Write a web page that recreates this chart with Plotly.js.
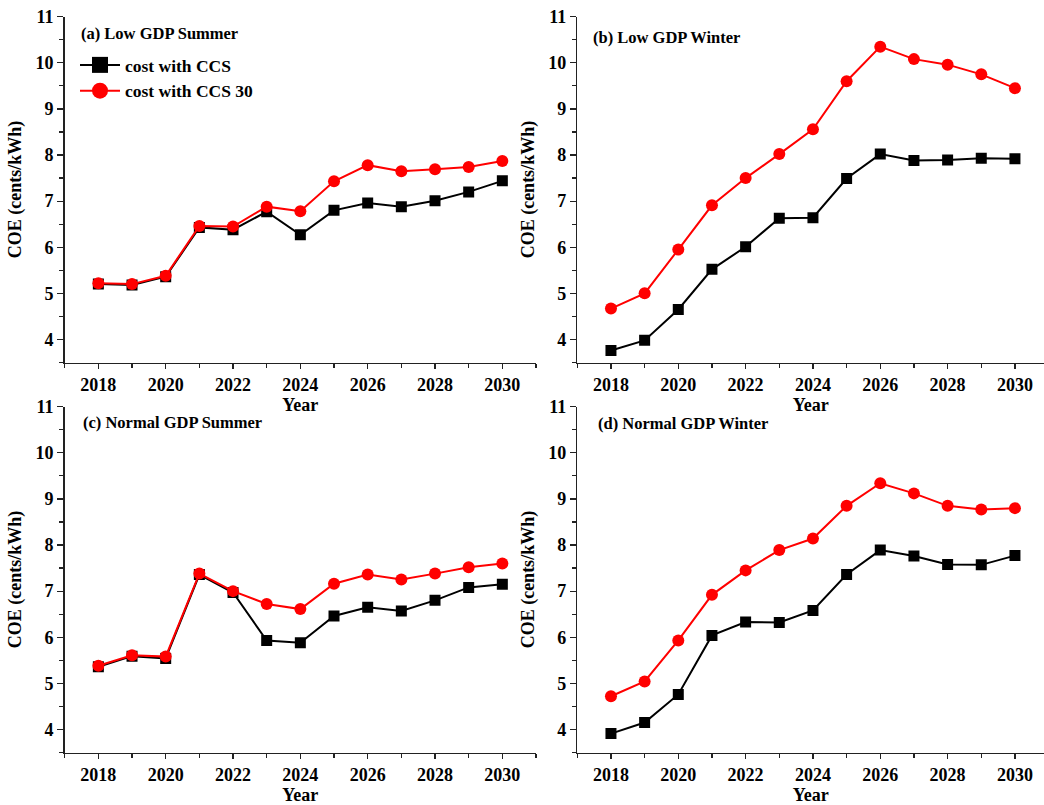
<!DOCTYPE html>
<html>
<head>
<meta charset="utf-8">
<script src="https://cdn.plot.ly/plotly-3.0.1.min.js"></script>
<style>
  html, body { margin: 0; padding: 0; background: #fff; }
  #chart { width: 1044px; height: 805px; }
</style>
</head>
<body>
<div id="chart"></div>
<script>
// Years on the horizontal axis
const years = [2018, 2019, 2020, 2021, 2022, 2023, 2024, 2025, 2026, 2027, 2028, 2029, 2030];

// Cost of electricity (cents/kWh), cost with CCS
const lowSummerCCS    = [5.20, 5.18, 5.36, 6.43, 6.38, 6.77, 6.27, 6.80, 6.96, 6.88, 7.01, 7.20, 7.44];
const lowWinterCCS    = [3.76, 3.98, 4.65, 5.52, 6.01, 6.63, 6.64, 7.49, 8.02, 7.88, 7.89, 7.93, 7.92];
const normalSummerCCS = [5.36, 5.59, 5.54, 7.36, 6.97, 5.93, 5.88, 6.46, 6.65, 6.57, 6.80, 7.08, 7.15];
const normalWinterCCS = [3.91, 4.15, 4.76, 6.04, 6.33, 6.32, 6.58, 7.36, 7.89, 7.76, 7.58, 7.57, 7.77];

// Cost of electricity (cents/kWh), cost with CCS 30
const lowSummerCCS30    = [5.22, 5.20, 5.38, 6.46, 6.45, 6.88, 6.78, 7.43, 7.78, 7.65, 7.69, 7.74, 7.87];
const lowWinterCCS30    = [4.67, 5.00, 5.95, 6.91, 7.50, 8.02, 8.56, 9.60, 10.35, 10.08, 9.96, 9.75, 9.45];
const normalSummerCCS30 = [5.38, 5.61, 5.58, 7.38, 7.00, 6.72, 6.61, 7.16, 7.36, 7.25, 7.38, 7.52, 7.60];
const normalWinterCCS30 = [4.72, 5.04, 5.93, 6.92, 7.45, 7.89, 8.14, 8.85, 9.34, 9.12, 8.85, 8.77, 8.80];

const seriesNames = ['cost with CCS', 'cost with CCS 30'];
const panelTitles = ['(a) Low GDP Summer', '(b) Low GDP Winter', '(c) Normal GDP Summer', '(d) Normal GDP Winter'];
const xTitle = 'Year';
const yTitle = 'COE (cents/kWh)';

const panels = [
  { ccs: lowSummerCCS,    ccs30: lowSummerCCS30,    xa: 'x',  ya: 'y'  },
  { ccs: lowWinterCCS,    ccs30: lowWinterCCS30,    xa: 'x2', ya: 'y2' },
  { ccs: normalSummerCCS, ccs30: normalSummerCCS30, xa: 'x3', ya: 'y3' },
  { ccs: normalWinterCCS, ccs30: normalWinterCCS30, xa: 'x4', ya: 'y4' }
];

const FONT = 'Liberation Serif, Times New Roman, serif';
const blackStyle = { line: { color: '#000000', width: 2 }, marker: { symbol: 'square', size: 11, color: '#000000' } };
const redStyle   = { line: { color: '#ff0000', width: 2 }, marker: { symbol: 'circle', size: 12, color: '#ff0000' } };

const traces = [];
panels.forEach(p => {
  traces.push(Object.assign({ type: 'scatter', mode: 'lines+markers', x: years, y: p.ccs,
    xaxis: p.xa, yaxis: p.ya, showlegend: false, name: seriesNames[0] }, blackStyle));
  traces.push(Object.assign({ type: 'scatter', mode: 'lines+markers', x: years, y: p.ccs30,
    xaxis: p.xa, yaxis: p.ya, showlegend: false, name: seriesNames[1] }, redStyle));
});
// Legend entries with enlarged symbols
traces.push({ type: 'scatter', mode: 'lines+markers', x: [null], y: [null], name: seriesNames[0],
  line: { color: '#000000', width: 2 }, marker: { symbol: 'square', size: 18, color: '#000000' } });
traces.push({ type: 'scatter', mode: 'lines+markers', x: [null], y: [null], name: seriesNames[1],
  line: { color: '#ff0000', width: 2 }, marker: { symbol: 'circle', size: 20, color: '#ff0000' } });

const W = 1044, H = 805;
const colX = [[64.7 / W, 536 / W], [577.3 / W, 1]];
const rowY = [[1 - 362.5 / H, 1 - 16.7 / H], [1 - 752.5 / H, 1 - 406.7 / H]];
const pxPerYear = (536 - 64.7) / 14;

function xAxis(dom, anchor, end) {
  return {
    domain: dom, anchor: anchor, range: [2017, end],
    tickmode: 'linear', tick0: 2018, dtick: 2,
    ticks: 'outside', ticklen: 5, tickwidth: 1.2, tickcolor: '#222',
    minor: { dtick: 1, tick0: 2017, ticks: 'outside', ticklen: 4, tickwidth: 1.2, tickcolor: '#222' },
    showline: true, linecolor: '#222', linewidth: 1.5, mirror: false,
    showgrid: false, zeroline: false,
    tickfont: { family: FONT, size: 18, color: '#000', weight: 'bold' },
    title: { text: xTitle, standoff: 3, font: { family: FONT, size: 18, color: '#000', weight: 'bold' } },
    automargin: false, fixedrange: true
  };
}
function yAxis(dom, anchor) {
  return {
    domain: dom, anchor: anchor, range: [3.5, 11],
    tickmode: 'linear', tick0: 4, dtick: 1,
    ticks: 'outside', ticklen: 6, tickwidth: 1.2, tickcolor: '#222',
    minor: { dtick: 0.5, tick0: 3.5, ticks: 'outside', ticklen: 4, tickwidth: 1.2, tickcolor: '#222' },
    showline: true, linecolor: '#222', linewidth: 1.5, mirror: false,
    showgrid: false, zeroline: false,
    tickfont: { family: FONT, size: 18, color: '#000', weight: 'bold' },
    title: { text: yTitle, standoff: 9, font: { family: FONT, size: 18, color: '#000', weight: 'bold' } },
    automargin: false, fixedrange: true
  };
}

const rightEnd = 2017 + (W - 577.3) / pxPerYear;

const annotations = [
  { x: 79 / W,    y: 1 - 33 / H },
  { x: 591 / W,   y: 1 - 37 / H },
  { x: 81 / W,    y: 1 - 422.7 / H },
  { x: 596 / W,   y: 1 - 423.3 / H }
].map((pos, i) => ({
  xref: 'paper', yref: 'paper', x: pos.x, y: pos.y, xanchor: 'left', yanchor: 'middle',
  text: panelTitles[i], showarrow: false,
  font: { family: FONT, size: 16.5, color: '#000', weight: 'bold' }
}));

const layout = {
  width: W, height: H,
  margin: { l: 0, r: 0, t: 0, b: 0 },
  paper_bgcolor: '#ffffff', plot_bgcolor: '#ffffff',
  font: { family: FONT, color: '#000' },
  showlegend: true,
  legend: {
    x: 75 / W, y: 1 - 47 / H, xanchor: 'left', yanchor: 'top',
    bgcolor: 'rgba(0,0,0,0)', borderwidth: 0,
    itemwidth: 40, tracegroupgap: 0,
    font: { family: FONT, size: 17.5, color: '#000', weight: 'bold' }
  },
  xaxis:  xAxis(colX[0], 'y',  2031),
  yaxis:  yAxis(rowY[0], 'x'),
  xaxis2: xAxis(colX[1], 'y2', rightEnd),
  yaxis2: yAxis(rowY[0], 'x2'),
  xaxis3: xAxis(colX[0], 'y3', 2031),
  yaxis3: yAxis(rowY[1], 'x3'),
  xaxis4: xAxis(colX[1], 'y4', rightEnd),
  yaxis4: yAxis(rowY[1], 'x4'),
  annotations: annotations
};

Plotly.newPlot('chart', traces, layout, { displayModeBar: false, staticPlot: true });
</script>
</body>
</html>
